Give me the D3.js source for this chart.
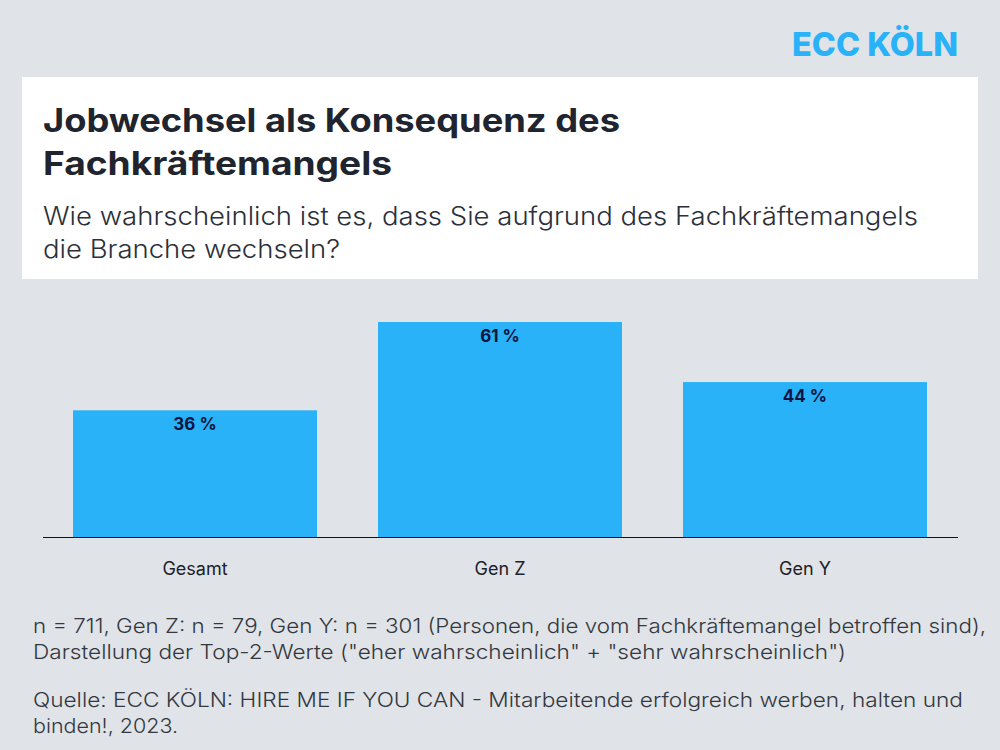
<!DOCTYPE html>
<html>
<head>
<meta charset="utf-8">
<script src="https://cdn.jsdelivr.net/npm/d3@7"></script>
<style>
    html, body { margin: 0; padding: 0; background: #e0e3e7; }
    svg { display: block; }
    text { font-family: Inter, "Open Sans", sans-serif; }
</style>
</head>
<body>
<div id="chart"></div>
<script>
// Chart data
const categories = ["Gesamt", "Gen Z", "Gen Y"];
const values = [36, 61, 44];

// Text blocks: [text, x, baseline, right edge in the reference]
const titleLines = [
    ["Jobwechsel als Konsequenz des", 43, 131.5, 620],
    ["Fachkräftemangels", 43, 174.5, 392]
];
const subtitleLines = [
    ["Wie wahrscheinlich ist es, dass Sie aufgrund des Fachkräftemangels", 43, 225, 918],
    ["die Branche wechseln?", 43, 258, 340]
];
const noteLines = [
    ["n = 711, Gen Z: n = 79, Gen Y: n = 301 (Personen, die vom Fachkräftemangel betroffen sind),", 33, 632.5, 986],
    ["Darstellung der Top-2-Werte (\"eher wahrscheinlich\" + \"sehr wahrscheinlich\")", 33, 658.5, 846],
    ["Quelle: ECC KÖLN: HIRE ME IF YOU CAN - Mitarbeitende erfolgreich werben, halten und", 33, 706.5, 963],
    ["binden!, 2023.", 33, 732.5, 178]
];

const svg = d3.select("#chart").append("svg")
    .attr("width", 1000)
    .attr("height", 750);

svg.append("rect")
    .attr("width", 1000)
    .attr("height", 750)
    .attr("fill", "#e0e3e7");

// Logo
svg.append("text")
    .attr("x", 792)
    .attr("y", 55.5)
    .attr("textLength", 166)
    .attr("lengthAdjust", "spacingAndGlyphs")
    .style("font-size", "33px")
    .style("font-weight", 800)
    .style("fill", "#29b2f8")
    .text("ECC KÖLN");

// White header box
svg.append("rect")
    .attr("x", 22)
    .attr("y", 77)
    .attr("width", 956)
    .attr("height", 202)
    .attr("fill", "#ffffff");

function addLines(lines, size, weight, color) {
    svg.append("g").selectAll("text")
        .data(lines)
        .enter().append("text")
        .attr("x", d => d[1])
        .attr("y", d => d[2])
        .attr("textLength", d => d[3] - d[1])
        .attr("lengthAdjust", "spacingAndGlyphs")
        .style("font-size", size + "px")
        .style("font-weight", weight)
        .style("fill", color)
        .text(d => d[0]);
}

addLines(titleLines, 32, 700, "#20242e");
addLines(subtitleLines, 25, 300, "#2b303a");
addLines(noteLines, 20, 300, "#33383f");

// Scales
const x = d3.scaleBand()
    .domain(categories)
    .range([42.5, 957.5])
    .paddingInner(0.2)
    .paddingOuter(0.1);
const y = d3.scaleLinear()
    .domain([0, 61])
    .range([537.5, 322]);

const rows = categories.map((c, i) => ({ category: c, value: values[i] }));

// Bars
svg.selectAll(".bar")
    .data(rows)
    .enter().append("rect")
    .attr("class", "bar")
    .attr("x", d => x(d.category))
    .attr("width", x.bandwidth())
    .attr("y", d => y(d.value))
    .attr("height", d => y(0) - y(d.value))
    .attr("fill", "#29b2f8");

// Value labels
svg.selectAll(".value")
    .data(rows)
    .enter().append("text")
    .attr("class", "value")
    .attr("x", d => x(d.category) + x.bandwidth() / 2)
    .attr("y", d => y(d.value) + 19.5)
    .attr("text-anchor", "middle")
    .style("font-size", "17px")
    .style("font-weight", 700)
    .style("fill", "#0a1440")
    .text(d => d.value + " %");

// x axis, moved up half a pixel so the 1px domain line stays crisp
const axis = svg.append("g")
    .attr("transform", "translate(0," + (y(0) - 0.5) + ")")
    .call(d3.axisBottom(x).tickSize(0).tickPadding(25));
axis.select(".domain")
    .attr("stroke", "#0c1220")
    .attr("stroke-width", 1);
axis.selectAll("text")
    .style("font-family", "Inter, sans-serif")
    .style("font-size", "18px")
    .style("font-weight", 400)
    .style("fill", "#1d2129");
</script>
</body>
</html>
